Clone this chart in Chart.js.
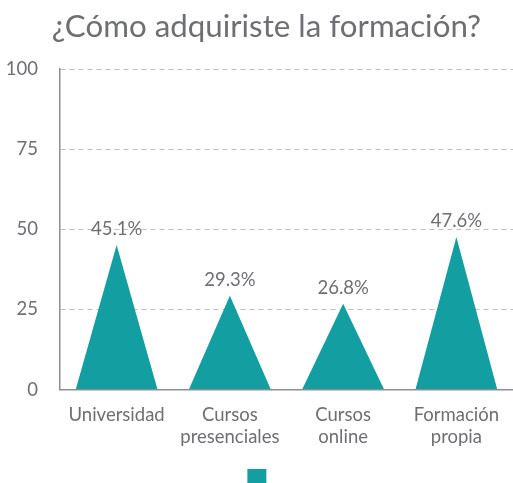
<!DOCTYPE html>
<html>
<head>
<meta charset="utf-8">
<script src="https://cdn.jsdelivr.net/npm/chart.js@4"></script>
<style>
  body { margin: 0; background: #fff; }
  #wrap { width: 513px; height: 483px; }
</style>
</head>
<body>
<div id="wrap"><canvas id="formacionChart"></canvas></div>
<script>
const categories = ['Universidad', ['Cursos', 'presenciales'], ['Cursos', 'online'], ['Formación', 'propia']];
const values = [45.1, 29.3, 26.8, 47.6];
const yTicks = [0, 25, 50, 75, 100];

const teal = '#139ea1';
const grey = '#6d6f72';

// draw each bar as a triangle (apex at the value), then the % label above it
const trianglePlugin = {
    id: 'triangles',
    afterLayout(chart) {
        // title sits a little right of centre in the original
        chart.titleBlock.left += 10;
    },
    beforeDatasetsDraw(chart) {
        const ctx = chart.ctx;
        const meta = chart.getDatasetMeta(0);
        ctx.save();
        meta.data.forEach((bar, i) => {
            const half = bar.width / 2;
            ctx.beginPath();
            ctx.moveTo(bar.x - half, bar.base);
            ctx.lineTo(bar.x, bar.y);
            ctx.lineTo(bar.x + half, bar.base);
            ctx.closePath();
            ctx.fillStyle = teal;
            ctx.fill();

            ctx.fillStyle = grey;
            ctx.font = '18.5px Lato';
            ctx.textAlign = 'center';
            ctx.textBaseline = 'middle';
            ctx.fillText(values[i].toFixed(1) + '%', bar.x, bar.y - 16);
        });
        ctx.restore();
        return false;
    }
};

new Chart(document.getElementById('formacionChart'), {
    type: 'bar',
    data: {
        labels: categories,
        datasets: [{
            label: '',
            data: values,
            backgroundColor: teal,
            borderWidth: 0
        }]
    },
    options: {
        responsive: true,
        maintainAspectRatio: false,
        animation: false,
        layout: { padding: { left: 6, right: -4, top: 0, bottom: -15 } },
        scales: {
            x: {
                grid: { display: false },
                border: { display: true, color: '#8c8f92', width: 1.5 },
                ticks: { color: grey, font: { family: 'Lato', size: 18.5, lineHeight: 1.2 }, padding: 6, maxRotation: 0 },
                afterFit: scale => { scale.paddingLeft = 0; scale.paddingRight = -4; }
            },
            y: {
                min: 0,
                max: 100,
                afterBuildTicks: axis => { axis.ticks = yTicks.map(v => ({ value: v })); },
                afterFit: scale => { scale.width = 54; },
                grid: { color: '#bdbfc1', drawTicks: false },
                border: { display: true, color: '#8c8f92', width: 1.5, dash: [5, 4] },
                ticks: { color: grey, font: { family: 'Lato', size: 18.5 }, padding: 22 }
            }
        },
        plugins: {
            title: {
                display: true,
                text: '¿Cómo adquiriste la formación?',
                color: grey,
                font: { family: 'Lato', size: 31.3, weight: 'normal' },
                padding: { top: 8, bottom: 23.5 }
            },
            legend: {
                position: 'bottom',
                labels: { boxWidth: 19, boxHeight: 19, padding: 15, font: { family: 'Lato', size: 18.5 } }
            },
            tooltip: { enabled: false }
        }
    },
    plugins: [trianglePlugin]
});
</script>
</body>
</html>
